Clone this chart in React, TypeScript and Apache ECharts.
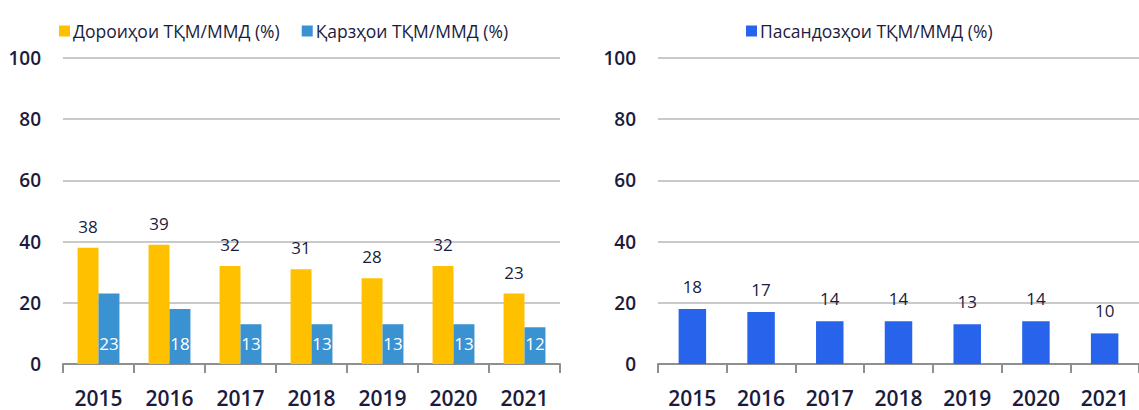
import React, { useEffect, useRef } from "react";
import * as echarts from "echarts";

const years = ["2015", "2016", "2017", "2018", "2019", "2020", "2021"];
const revenueGdp = [38, 39, 32, 31, 28, 32, 23];
const debtGdp = [23, 18, 13, 13, 13, 13, 12];
const savingsGdp = [18, 17, 14, 14, 13, 14, 10];
const yTicks = [0, 20, 40, 60, 80, 100];

const nameRevenue = "Дороиҳои ТҚМ/ММД (%)";
const nameDebt = "Қарзҳои ТҚМ/ММД (%)";
const nameSavings = "Пасандозҳои ТҚМ/ММД (%)";

const FONT = "Open Sans";
const TEXT = "#1b1b3d";

export default function App() {
  const ref = useRef<HTMLDivElement>(null);
  useEffect(() => {
    if (!ref.current) return;
    const chart = echarts.init(ref.current, null, { renderer: "svg" });
    const yAxisBase = (gridIndex: number) => ({
      type: "value" as const,
      gridIndex,
      min: yTicks[0],
      max: yTicks[yTicks.length - 1],
      interval: yTicks[1] - yTicks[0],
      axisLine: { show: false },
      axisTick: { show: false },
      axisLabel: {
        margin: 22,
        fontFamily: FONT,
        fontSize: 19,
        fontWeight: 600,
        color: TEXT,
      },
      splitLine: { lineStyle: { color: "#c9c9c9", width: 2 } },
    });
    const xAxisBase = (gridIndex: number) => ({
      type: "category" as const,
      gridIndex,
      data: years,
      axisLine: { lineStyle: { color: "#8f8f8f", width: 2 } },
      axisTick: { show: true, length: 9, lineStyle: { color: "#8f8f8f", width: 2 } },
      axisLabel: {
        margin: 23,
        fontFamily: FONT,
        fontSize: 21,
        fontWeight: 600,
        color: TEXT,
      },
    });
    const topLabel = {
      show: true,
      position: "top" as const,
      distance: 13,
      fontFamily: FONT,
      fontSize: 17,
      fontWeight: 500,
      color: TEXT,
    };
    const legendText = { fontFamily: FONT, fontSize: 17.5, fontWeight: 500, color: TEXT, padding: [0, 0, 0, -2] };
    chart.setOption({
      animation: false,
      grid: [
        { left: 63, top: 58, width: 497, height: 306 },
        { left: 658, top: 58, width: 487, height: 306 },
      ],
      legend: [
        {
          data: [nameRevenue, nameDebt],
          left: 54,
          top: 17,
          itemWidth: 11,
          itemHeight: 11,
          itemGap: 22,
          icon: "rect",
          textStyle: legendText,
        },
        {
          data: [nameSavings],
          left: 741,
          top: 17,
          itemWidth: 11,
          itemHeight: 11,
          icon: "rect",
          textStyle: legendText,
        },
      ],
      xAxis: [xAxisBase(0), xAxisBase(1)],
      yAxis: [yAxisBase(0), yAxisBase(1)],
      series: [
        {
          name: nameRevenue,
          type: "bar",
          xAxisIndex: 0,
          yAxisIndex: 0,
          data: revenueGdp,
          itemStyle: { color: "#ffc000" },
          barGap: "0%",
          barCategoryGap: "41%",
          label: topLabel,
        },
        {
          name: nameDebt,
          type: "bar",
          xAxisIndex: 0,
          yAxisIndex: 0,
          data: debtGdp,
          itemStyle: { color: "#3a92d0" },
          label: {
            show: true,
            position: "insideBottom",
            distance: 12,
            fontFamily: FONT,
            fontSize: 17,
            fontWeight: 500,
            color: "#ffffff",
          },
        },
        {
          name: nameSavings,
          type: "bar",
          xAxisIndex: 1,
          yAxisIndex: 1,
          data: savingsGdp,
          itemStyle: { color: "#2763eb" },
          barCategoryGap: "60%",
          label: { ...topLabel, distance: 14 },
        },
      ],
    });
    return () => chart.dispose();
  }, []);
  return (
    <div
      ref={ref}
      style={{ position: "fixed", left: 0, top: 0, width: 1139, height: 410, background: "#fff" }}
    />
  );
}
